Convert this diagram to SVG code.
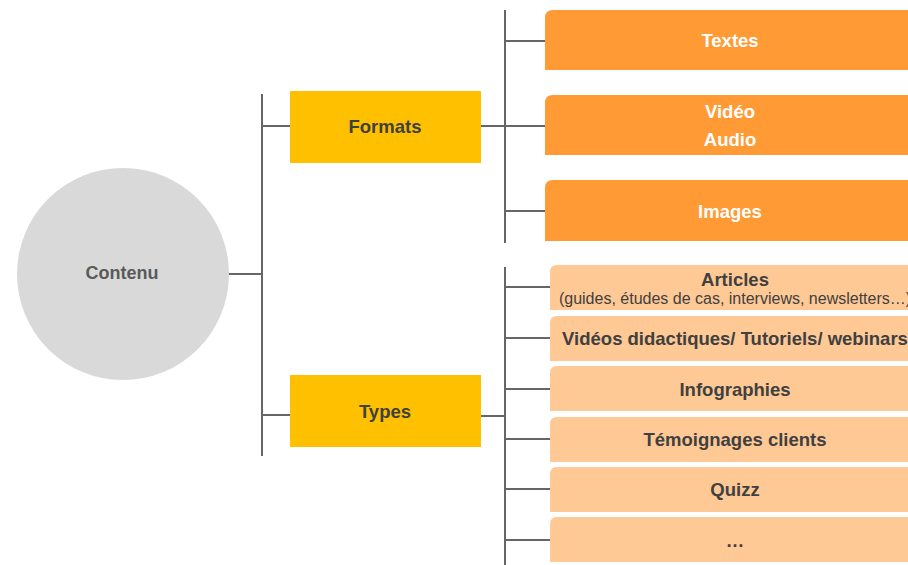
<svg xmlns="http://www.w3.org/2000/svg" width="908" height="565" viewBox="0 0 908 565">
<style>
.ln{stroke:#666666;stroke-width:2;fill:none}
.t{font-family:"Liberation Sans",Arial,sans-serif;font-weight:bold;text-anchor:middle;dominant-baseline:central}
.sub{font-family:"Liberation Sans",Arial,sans-serif;font-weight:normal;text-anchor:middle;dominant-baseline:central;fill:#404040;font-size:16px}
.dk{fill:#404040;font-size:18.5px}
.wh{fill:#ffffff;font-size:18.5px}
.fmt{fill:#FF9A35}
.typ{fill:#FFC995}
.cat{fill:#FFC000}
</style>
<rect width="908" height="565" fill="#ffffff"/>
<g id="connectors">
<line class="ln" x1="229" y1="274" x2="262" y2="274"/>
<line class="ln" x1="262" y1="94" x2="262" y2="456"/>
<line class="ln" x1="262" y1="126" x2="290" y2="126"/>
<line class="ln" x1="262" y1="415" x2="290" y2="415"/>
<line class="ln" x1="481" y1="126" x2="505" y2="126"/>
<line class="ln" x1="505" y1="10" x2="505" y2="243"/>
<line class="ln" x1="505" y1="41" x2="545" y2="41"/>
<line class="ln" x1="505" y1="126" x2="545" y2="126"/>
<line class="ln" x1="505" y1="211" x2="545" y2="211"/>
<line class="ln" x1="481" y1="416" x2="505" y2="416"/>
<line class="ln" x1="505" y1="267" x2="505" y2="565"/>
<line class="ln" x1="505" y1="287" x2="550" y2="287"/>
<line class="ln" x1="505" y1="338" x2="550" y2="338"/>
<line class="ln" x1="505" y1="389" x2="550" y2="389"/>
<line class="ln" x1="505" y1="439" x2="550" y2="439"/>
<line class="ln" x1="505" y1="489" x2="550" y2="489"/>
<line class="ln" x1="505" y1="540" x2="550" y2="540"/>
</g>
<g id="contenu">
<circle cx="123" cy="274" r="106" fill="#D9D9D9"/>
<text class="t" x="122" y="273" font-size="18" fill="#595959">Contenu</text>
</g>
<g id="formats">
<rect class="cat" x="290" y="91" width="191" height="72"/>
<text class="t dk" x="385" y="126">Formats</text>
</g>
<g id="types">
<rect class="cat" x="290" y="375" width="191" height="72"/>
<text class="t dk" x="385" y="411">Types</text>
</g>
<g id="textes">
<path class="fmt" d="M545,70 V18 Q545,10 553,10 H925 V70 Z"/>
<text class="t wh" x="730" y="40">Textes</text>
</g>
<g id="video-audio">
<path class="fmt" d="M545,155 V103 Q545,95 553,95 H925 V155 Z"/>
<text class="t wh" x="730" y="111">Vidéo</text>
<text class="t wh" x="730" y="139">Audio</text>
</g>
<g id="images">
<path class="fmt" d="M545,241 V188 Q545,180 553,180 H925 V241 Z"/>
<text class="t wh" x="730" y="211">Images</text>
</g>
<g id="articles">
<path class="typ" d="M550,310 V272 Q550,265 557,265 H930 V310 Z"/>
<text class="t dk" x="735" y="279">Articles</text>
<text class="sub" x="735" y="298">(guides, études de cas, interviews, newsletters…)</text>
</g>
<g id="videos">
<path class="typ" d="M550,361 V323 Q550,316 557,316 H930 V361 Z"/>
<text class="t dk" x="735" y="338">Vidéos didactiques/ Tutoriels/ webinars</text>
</g>
<g id="infographies">
<path class="typ" d="M550,411 V373 Q550,366 557,366 H930 V411 Z"/>
<text class="t dk" x="735" y="389">Infographies</text>
</g>
<g id="temoignages">
<path class="typ" d="M550,462 V424 Q550,417 557,417 H930 V462 Z"/>
<text class="t dk" x="735" y="439">Témoignages clients</text>
</g>
<g id="quizz">
<path class="typ" d="M550,512 V474 Q550,467 557,467 H930 V512 Z"/>
<text class="t dk" x="735" y="489">Quizz</text>
</g>
<g id="etc">
<path class="typ" d="M550,562 V524 Q550,517 557,517 H930 V562 Z"/>
<text class="t dk" x="735" y="540">…</text>
</g>
</svg>
